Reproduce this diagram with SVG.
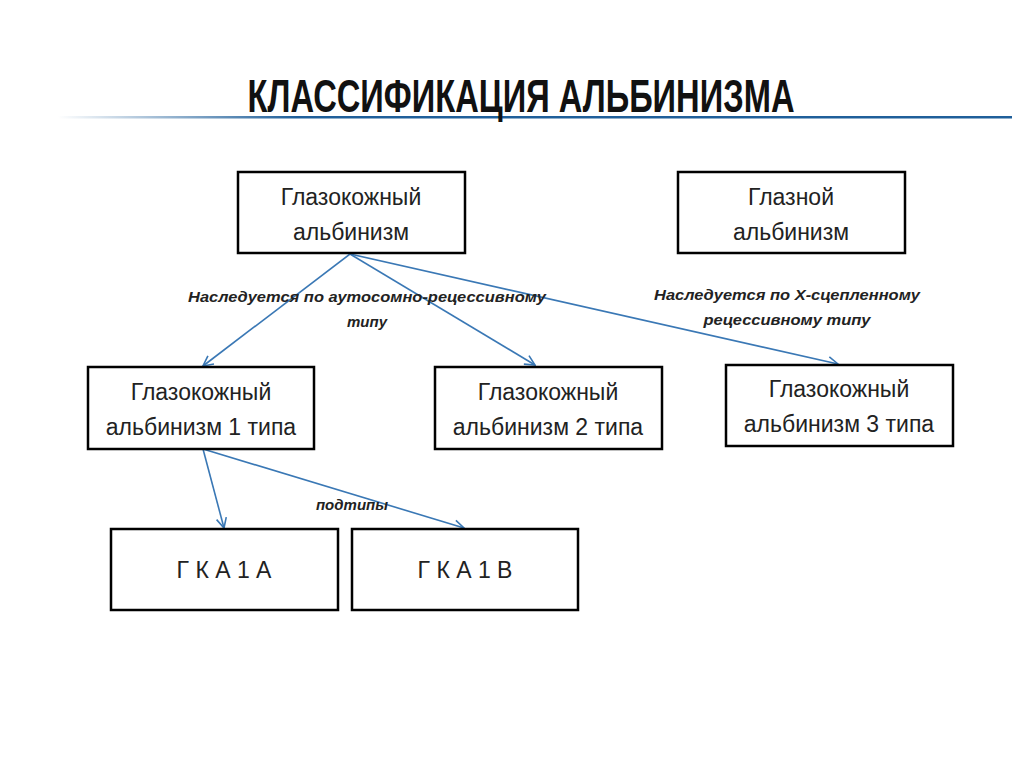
<svg xmlns="http://www.w3.org/2000/svg" width="1024" height="767" viewBox="0 0 1024 767">
<style>
.box{fill:#fff;stroke:#000;stroke-width:2.5}
.t{font-family:"Liberation Sans",Arial,sans-serif;font-size:23px;fill:#222;text-anchor:middle}
.l{font-family:"Liberation Sans",Arial,sans-serif;font-size:15px;font-weight:bold;font-style:italic;fill:#222;text-anchor:middle}
.c{stroke:#3a78b5;stroke-width:1.6;fill:none;marker-end:url(#ah)}
</style>
<defs>
<marker id="ah" viewBox="0 0 12 12" refX="11" refY="6" markerWidth="12" markerHeight="12" markerUnits="userSpaceOnUse" orient="auto"><path d="M1,1 L11,6 L1,11" fill="none" stroke="#3a78b5" stroke-width="1.6"/></marker>
<linearGradient id="lg" x1="0" x2="1"><stop offset="0" stop-color="#1f5f9a" stop-opacity="0"/><stop offset="0.25" stop-color="#1f5f9a"/><stop offset="1" stop-color="#1f5f9a"/></linearGradient>
</defs>
<rect width="1024" height="767" fill="#fff"/>
<rect x="58" y="116" width="954" height="2.5" fill="url(#lg)"/>
<text x="521" y="112" font-family="Liberation Sans,Arial,sans-serif" font-size="46" font-weight="bold" text-anchor="middle" textLength="547" lengthAdjust="spacingAndGlyphs" fill="#111">КЛАССИФИКАЦИЯ АЛЬБИНИЗМА</text>
<g id="connectors">
<line class="c" x1="350" y1="254" x2="203" y2="366"/>
<line class="c" x1="350" y1="254" x2="535" y2="365"/>
<line class="c" x1="350" y1="254" x2="838" y2="364"/>
<line class="c" x1="203" y1="449" x2="224" y2="528"/>
<line class="c" x1="203" y1="449" x2="464" y2="528"/>
</g>
<g id="labels">
<text class="l" x="367" y="302" textLength="358" lengthAdjust="spacingAndGlyphs">Наследуется по аутосомно-рецессивному</text>
<text class="l" x="367" y="327">типу</text>
<text class="l" x="787" y="300" textLength="266" lengthAdjust="spacingAndGlyphs">Наследуется по Х-сцепленному</text>
<text class="l" x="787" y="325" textLength="167" lengthAdjust="spacingAndGlyphs">рецессивному типу</text>
<text class="l" x="352" y="510">подтипы</text>
</g>
<g id="n1"><rect class="box" x="238" y="172" width="227" height="81"/><text class="t" x="351" y="205">Глазокожный</text><text class="t" x="351" y="240">альбинизм</text></g>
<g id="n2"><rect class="box" x="678" y="172" width="227" height="81"/><text class="t" x="791" y="205">Глазной</text><text class="t" x="791" y="240">альбинизм</text></g>
<g id="n3"><rect class="box" x="88" y="367" width="226" height="82"/><text class="t" x="201" y="400">Глазокожный</text><text class="t" x="201" y="435">альбинизм 1 типа</text></g>
<g id="n4"><rect class="box" x="435" y="367" width="227" height="82"/><text class="t" x="548" y="400">Глазокожный</text><text class="t" x="548" y="435">альбинизм 2 типа</text></g>
<g id="n5"><rect class="box" x="726" y="365" width="227" height="81"/><text class="t" x="839" y="397">Глазокожный</text><text class="t" x="839" y="432">альбинизм 3 типа</text></g>
<g id="n6"><rect class="box" x="111" y="529" width="227" height="81"/><text class="t" x="224" y="578">Г К А 1 А</text></g>
<g id="n7"><rect class="box" x="352" y="529" width="226" height="81"/><text class="t" x="465" y="578">Г К А 1 В</text></g>
</svg>
